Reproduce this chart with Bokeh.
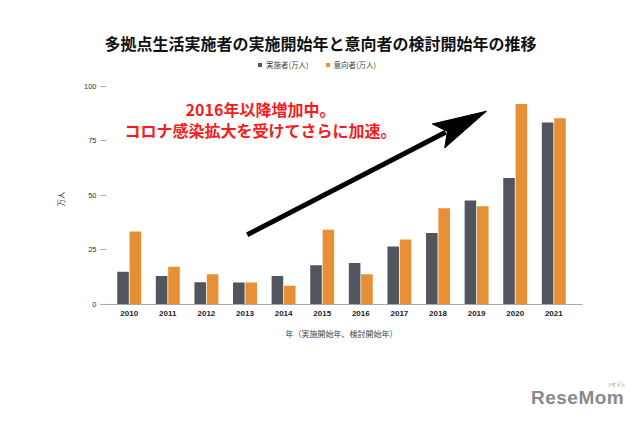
import math
from bokeh.plotting import figure
from bokeh.models import (FactorRange, Range1d, FixedTicker, Label, ColumnDataSource,
                          Legend, LegendItem, Div, Title)
from bokeh.layouts import column
from bokeh.transform import dodge
from bokeh.embed import file_html
from bokeh.resources import INLINE

# ---- data ----
years = ["2010", "2011", "2012", "2013", "2014", "2015",
         "2016", "2017", "2018", "2019", "2020", "2021"]
jisshi = [15.0, 13.1, 10.2, 10.1, 13.0, 18.0, 19.0, 26.6, 32.7, 47.6, 57.9, 83.3]
ikou = [33.4, 17.3, 13.9, 10.1, 8.6, 34.2, 13.9, 29.8, 44.1, 45.0, 91.8, 85.3]
y_ticks = [0, 25, 50, 75, 100]
series_names = ["実施者(万人)", "意向者(万人)"]

title_text = "多拠点生活実施者の実施開始年と意向者の検討開始年の推移"
note_lines = ["2016年以降増加中。", "コロナ感染拡大を受けてさらに加速。"]
x_title = "年（実施開始年、検討開始年）"
y_title = "万人"

DARK = "#51555e"
ORANGE = "#e68f35"
RED = "#f41c1c"
JP = "Noto Sans CJK JP"

W, H = 636, 380
FL, FR, FT, FB = 100, 582, 20, 304   # frame edges (px)
K = 2.184                            # px per unit on y
BAND_T = 38.6
PAD = ((FR - FL) / BAND_T - 12) / 12

src = ColumnDataSource(dict(year=years, jisshi=jisshi, ikou=ikou))

p = figure(width=W, height=H, output_backend="svg", toolbar_location=None,
           x_range=FactorRange(*years, range_padding=PAD),
           y_range=Range1d(0, (FB - FT) / K),
           min_border_left=FL, min_border_right=W - FR,
           min_border_top=FT, min_border_bottom=H - FB)
p.outline_line_color = None
p.background_fill_color = "white"
p.border_fill_color = "white"
p.grid.visible = False

r1 = p.vbar(x=dodge("year", -0.16, range=p.x_range), top="jisshi", width=0.30,
            source=src, fill_color=DARK, line_color=None)
r2 = p.vbar(x=dodge("year", 0.16, range=p.x_range), top="ikou", width=0.30,
            source=src, fill_color=ORANGE, line_color=None)

# axes
xa = p.xaxis[0]
xa.axis_line_color = "#a8a8a8"
xa.axis_line_width = 1
xa.major_tick_line_color = None
xa.minor_tick_line_color = None
xa.major_label_text_font = "Liberation Sans"
xa.major_label_text_font_style = "bold"
xa.major_label_text_font_size = "8px"
xa.major_label_text_color = "#222222"
xa.major_label_standoff = 0
xa.axis_label = x_title
xa.axis_label_text_font = JP
xa.axis_label_text_font_style = "normal"
xa.axis_label_text_font_size = "8px"
xa.axis_label_text_color = "#444444"
xa.axis_label_standoff = 9

ya = p.yaxis[0]
ya.ticker = FixedTicker(ticks=y_ticks)
ya.bounds = (0, 100)
ya.axis_line_color = None
ya.major_tick_out = 0
ya.major_tick_in = 6
ya.major_tick_line_color = "#a8a8a8"
ya.minor_tick_line_color = None
ya.major_label_text_font = "Liberation Sans"
ya.major_label_text_font_size = "7.5px"
ya.major_label_text_color = "#333333"
ya.major_label_standoff = 4

# y-axis title, centred on the 0-100 span (frame extends higher, invisibly)
p.add_layout(Title(text=y_title, align="left", offset=98, standoff=30,
                   text_font=JP, text_font_style="normal",
                   text_font_size="7.5px", text_color="#333333"), "left")

# legend (inside the tall, invisible frame)
legend = Legend(items=[LegendItem(label=series_names[0], renderers=[r1]),
                       LegendItem(label=series_names[1], renderers=[r2])],
                orientation="horizontal", location=(157, 234),
                glyph_width=5, glyph_height=5, label_height=10, label_width=10,
                label_standoff=4, spacing=16, padding=0, margin=0,
                border_line_color=None, background_fill_alpha=0,
                label_text_font=JP, label_text_font_size="7.5px",
                label_text_color="#444444")
p.add_layout(legend, "center")

BAND = (FR - FL) / (12 * (1 + PAD))
X0 = -12 * PAD / 2


def dx(px):
    return (px - FL) / BAND + X0


def dy(py):
    return (FB - py) / K


# title
p.add_layout(Label(x=dx(320), y=dy(42), text=title_text, text_align="center",
                   text_baseline="middle", text_font=JP, text_font_style="bold",
                   text_font_size="16px", text_color="#111111"))

# annotation text
for txt, yy in zip(note_lines, [108.7, 129.7]):
    p.add_layout(Label(x=dx(260), y=dy(yy), text=txt, text_align="center",
                       text_baseline="middle", text_font=JP, text_font_style="bold",
                       text_font_size="16px", text_color=RED))

# arrow (shaft + head), geometry in pixels
tail = (246.7, 234.3)
tip = (486.0, 110.7)
ux, uy = tip[0] - tail[0], tip[1] - tail[1]
L = math.hypot(ux, uy)
ux, uy = ux / L, uy / L
nx, ny = -uy, ux
head_len, half_w, notch = 54.0, 13.5, 44.0
c1 = (tip[0] - head_len * ux + half_w * nx, tip[1] - head_len * uy + half_w * ny)
c2 = (tip[0] - head_len * ux - half_w * nx, tip[1] - head_len * uy - half_w * ny)
nb = (tip[0] - notch * ux, tip[1] - notch * uy)
p.line([dx(tail[0]), dx(nb[0] - 2 * ux)], [dy(tail[1]), dy(nb[1] - 2 * uy)],
       line_color="black", line_width=5)
p.patch([dx(tip[0]), dx(c1[0]), dx(nb[0]), dx(c2[0])],
        [dy(tip[1]), dy(c1[1]), dy(nb[1]), dy(c2[1])],
        fill_color="black", line_color="black", line_width=1)

# watermark below the figure
wm = Div(text=('<div style="position:relative;width:636px;height:40px;">'
               '<span style="position:absolute;left:531px;top:7.5px;line-height:1;'
               'font-family:\'Liberation Sans\';font-weight:bold;font-size:19px;'
               'color:#8a8a8a;letter-spacing:0.5px;">ReseMom</span>'
               '<span style="position:absolute;left:607px;top:1.5px;line-height:1;'
               'font-family:\'Noto Sans CJK JP\';font-size:4.5px;color:#8a8a8a;">リセマム</span>'
               '</div>'),
         width=W, height=40, margin=(0, 0, 0, 0))

layout = column(p, wm, spacing=0)
open("out.html", "w").write(file_html(layout, INLINE))
